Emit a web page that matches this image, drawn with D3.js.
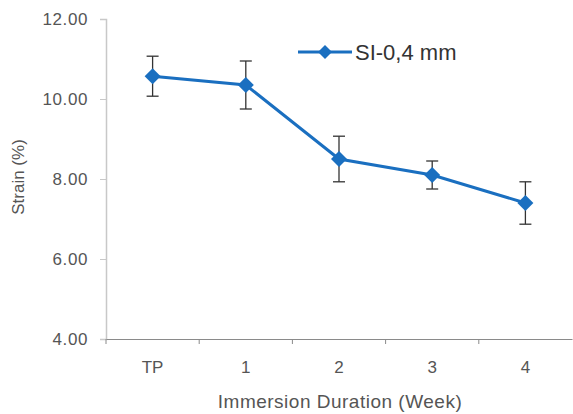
<!DOCTYPE html>
<html>
<head>
<meta charset="utf-8">
<script src="https://cdn.jsdelivr.net/npm/d3@7"></script>
<style>
  body { margin: 0; background: #fff; }
  text { font-family: "Liberation Sans", Arial, sans-serif; }
</style>
</head>
<body>
<div id="chart"></div>
<script>
(function () {

var categories = ["TP", "1", "2", "3", "4"];
var strain = [10.57, 10.35, 8.5, 8.1, 7.4];
var errors = [0.5, 0.6, 0.57, 0.35, 0.53];
var yTicks = [4, 6, 8, 10, 12];
var seriesName = "SI-0,4 mm";

var width = 573, height = 414;
var margin = {top: 19, right: 1, bottom: 75, left: 106};

var svg = d3.select("#chart")
            .append("svg")
            .attr("width", width)
            .attr("height", height);

var x = d3.scaleBand()
          .domain(categories)
          .range([margin.left, width - margin.right]);

var y = d3.scaleLinear()
          .domain([4, 12])
          .range([height - margin.bottom, margin.top]);

var blue = "#1a6fc0";

// square diamond marker
var diamondPath = function(r) {
  return "M0," + (-r) + "L" + r + ",0L0," + r + "L" + (-r) + ",0Z";
};

// y axis
var yAxis = svg.append("g")
   .attr("transform", "translate(" + margin.left + ",0)")
   .call(d3.axisLeft(y).tickValues(yTicks).tickFormat(d3.format(".2f")).tickSize(6).tickPadding(12));
yAxis.select(".domain").attr("stroke", "#c8c8c8").attr("stroke-width", 1.5);
yAxis.selectAll(".tick line").attr("stroke", "#c8c8c8");
yAxis.selectAll(".tick text").attr("fill", "#555").attr("font-size", 17).attr("letter-spacing", 0.6);

// x axis
var xAxis = svg.append("g")
   .attr("transform", "translate(0," + y(4) + ")")
   .call(d3.axisBottom(x).tickSizeOuter(0).tickSize(0).tickPadding(22));
xAxis.select(".domain").attr("stroke", "#8a8a8a").attr("stroke-width", 1.2);
xAxis.selectAll(".tick text").attr("fill", "#555").attr("font-size", 17);

// category boundary ticks
svg.append("g")
   .selectAll("line")
   .data(categories)
   .enter().append("line")
   .attr("x1", function(d) { return x(d); })
   .attr("x2", function(d) { return x(d); })
   .attr("y1", y(4))
   .attr("y2", y(4) + 5)
   .attr("stroke", "#8a8a8a");

// axis titles
svg.append("text")
   .attr("x", 340)
   .attr("y", 408)
   .attr("text-anchor", "middle")
   .attr("fill", "#555")
   .attr("font-size", 19)
   .attr("letter-spacing", 0.5)
   .text("Immersion Duration (Week)");

svg.append("text")
   .attr("transform", "translate(24,177) rotate(-90)")
   .attr("text-anchor", "middle")
   .attr("fill", "#555")
   .attr("font-size", 17)
   .text("Strain (%)");

var cx = function(i) { return x(categories[i]) + x.bandwidth() / 2; };

// line
var line = d3.line()
             .x(function(d, i) { return cx(i); })
             .y(function(d) { return y(d); });

svg.append("path")
   .datum(strain)
   .attr("fill", "none")
   .attr("stroke", blue)
   .attr("stroke-width", 3)
   .attr("d", line);

// error bars
var eb = svg.append("g").attr("stroke", "#333").attr("stroke-width", 1.3);
strain.forEach(function(v, i) {
  eb.append("line")
    .attr("x1", cx(i)).attr("x2", cx(i))
    .attr("y1", y(v + errors[i])).attr("y2", y(v - errors[i]));
  [v + errors[i], v - errors[i]].forEach(function(e) {
    eb.append("line")
      .attr("x1", cx(i) - 6).attr("x2", cx(i) + 6)
      .attr("y1", y(e)).attr("y2", y(e));
  });
});

// markers
svg.append("g")
   .selectAll("path")
   .data(strain)
   .enter().append("path")
   .attr("transform", function(d, i) { return "translate(" + cx(i) + "," + y(d) + ")"; })
   .attr("fill", blue)
   .attr("d", diamondPath(8));

// legend
var lg = svg.append("g").attr("transform", "translate(298,52)");
lg.append("line").attr("x1", 0).attr("x2", 54).attr("stroke", blue).attr("stroke-width", 3);
lg.append("path").attr("transform", "translate(27,0)").attr("fill", blue).attr("d", diamondPath(7));
lg.append("text")
  .attr("x", 57)
  .attr("y", 8)
  .attr("fill", "#333")
  .attr("font-size", 22)
  .text(seriesName);

})();
</script>
</body>
</html>
